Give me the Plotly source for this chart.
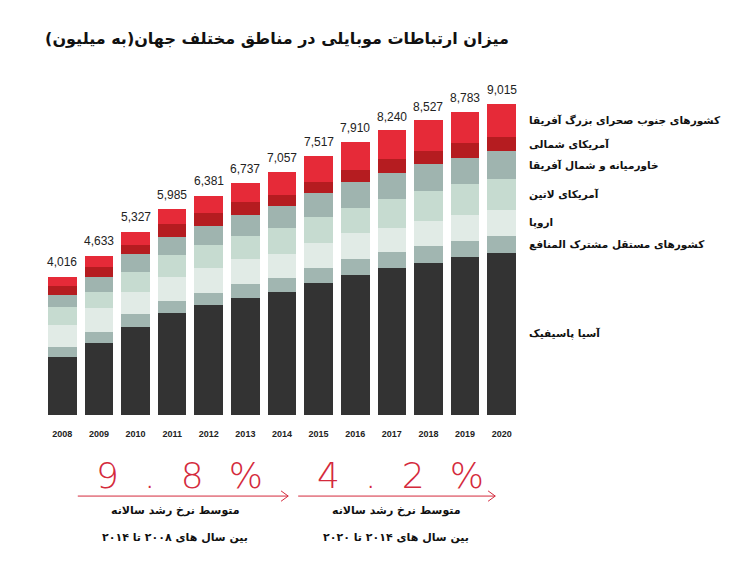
import plotly.graph_objects as go

# mobile connections by region, millions
years = ['2008', '2009', '2010', '2011', '2012', '2013', '2014',
         '2015', '2016', '2017', '2018', '2019', '2020']
totals = [4016, 4633, 5327, 5985, 6381, 6737, 7057, 7517, 7910, 8240, 8527, 8783, 9015]

asia_pacific = [1682, 2097, 2561, 2967, 3190, 3402, 3576, 3837, 4060, 4272, 4417, 4573, 4707]
cis = [290, 300, 368, 348, 357, 397, 406, 435, 464, 447, 493, 473, 493]
europe = [638, 696, 638, 696, 708, 716, 687, 725, 745, 713, 716, 754, 745]
latin_america = [522, 464, 571, 638, 676, 676, 745, 737, 742, 832, 879, 899, 890]
mena = [348, 445, 522, 522, 560, 609, 647, 696, 754, 763, 774, 763, 821]
north_america = [261, 290, 270, 368, 360, 386, 319, 336, 339, 389, 377, 418, 397]
sub_saharan = [261, 310, 368, 426, 502, 534, 676, 754, 803, 841, 890, 916, 966]

region_names = ['آسیا پاسیفیک', 'کشورهای مستقل مشترک المنافع', 'اروپا', 'آمریکای لاتین',
                'خاورمیانه و شمال آفریقا', 'آمریکای شمالی', 'کشورهای جنوب صحرای بزرگ آفریقا']
region_colors = ['#333333', '#a1b6b1', '#e1ebe6', '#c6dbd0', '#9fb4af', '#b51c20', '#e62a38']
series = [asia_pacific, cis, europe, latin_america, mena, north_america, sub_saharan]

growth_labels = ['9.8%', '4.2%']
growth_line1 = ['متوسط نرخ رشد سالانه', 'متوسط نرخ رشد سالانه']
growth_line2 = ['بین سال های ۲۰۰۸ تا ۲۰۱۴', 'بین سال های ۲۰۱۴ تا ۲۰۲۰']

fa_font = 'DejaVu Sans'

fig = go.Figure()
for name, vals, col in zip(region_names, series, region_colors):
    fig.add_trace(go.Bar(x=years, y=vals, name=name, marker_color=col,
                         marker_line_width=0, hoverinfo='y+name'))

# totals on top of the bars (x given as category index)
for i, tot in enumerate(totals):
    fig.add_annotation(x=i, y=tot, text=f'{tot:,}', showarrow=False,
                       xanchor='center', yanchor='bottom', yshift=5,
                       font=dict(family='Liberation Sans Narrow, Arial Narrow, Liberation Sans, sans-serif',
                                 size=12, color='#222222'))

# region labels next to the last bar
base = 0
for name, vals in zip(region_names, series):
    mid = base + vals[-1] / 2
    base += vals[-1]
    fig.add_annotation(xref='paper', yref='y', x=1.015, y=mid, text=name,
                       showarrow=False, xanchor='left', align='left',
                       font=dict(family=fa_font, size=10.5, color='#111111', weight='bold'))

# growth rates below the chart
red = '#d42a3c'
gx = [0.284, 0.748]
for i in range(2):
    big = '\u2002\u2009'.join(growth_labels[i])
    fig.add_annotation(xref='paper', yref='paper', x=gx[i], y=-0.174, text=big,
                       showarrow=False, xanchor='center', yanchor='middle',
                       font=dict(family='DejaVu Sans ExtraLight, DejaVu Sans, sans-serif',
                                 size=36, color=red, weight=200))
    fig.add_annotation(xref='paper', yref='paper', x=gx[i] - 0.007, y=-0.278,
                       text=growth_line1[i], showarrow=False,
                       xanchor='center', yanchor='middle',
                       font=dict(family=fa_font, size=11, color='#111111', weight='bold'))
    fig.add_annotation(xref='paper', yref='paper', x=gx[i] - 0.009, y=-0.354,
                       text=growth_line2[i], showarrow=False,
                       xanchor='center', yanchor='middle',
                       font=dict(family=fa_font, size=11, color='#111111', weight='bold'))

# arrows
arrows = [(0.071, 0.513), (0.534, 0.948)]
ay = -0.235
for x0, x1 in arrows:
    fig.add_shape(type='line', xref='paper', yref='paper', x0=x0, x1=x1, y0=ay, y1=ay,
                  line=dict(color=red, width=1))
    fig.add_shape(type='path', xref='paper', yref='paper',
                  path=f'M {x1 - 0.015} {ay + 0.015} L {x1} {ay} L {x1 - 0.015} {ay - 0.015}',
                  line=dict(color=red, width=1))

# page body has an 8px margin, so the figure is 8px smaller each way
fig.update_layout(
    width=742, height=554,
    margin=dict(l=36, r=230, t=62, b=147),
    paper_bgcolor='white', plot_bgcolor='white',
    barmode='stack', bargap=0.22,
    showlegend=False,
    title=dict(text='میزان ارتباطات موبایلی در مناطق مختلف جهان(به میلیون)',
               x=0.05, xanchor='left', y=0.946, yanchor='middle',
               font=dict(family=fa_font, size=16, color='#111111', weight='bold')),
    xaxis=dict(type='category', range=[-0.5, 12.5], showgrid=False, showline=False,
               zeroline=False, ticks='', ticklabelstandoff=12, automargin=False,
               tickfont=dict(family='Liberation Sans, Arial, sans-serif', size=9,
                             color='#222222', weight='bold')),
    yaxis=dict(range=[0, 10000], visible=False, showgrid=False, zeroline=False,
               automargin=False),
)

fig.write_html('out.html')
